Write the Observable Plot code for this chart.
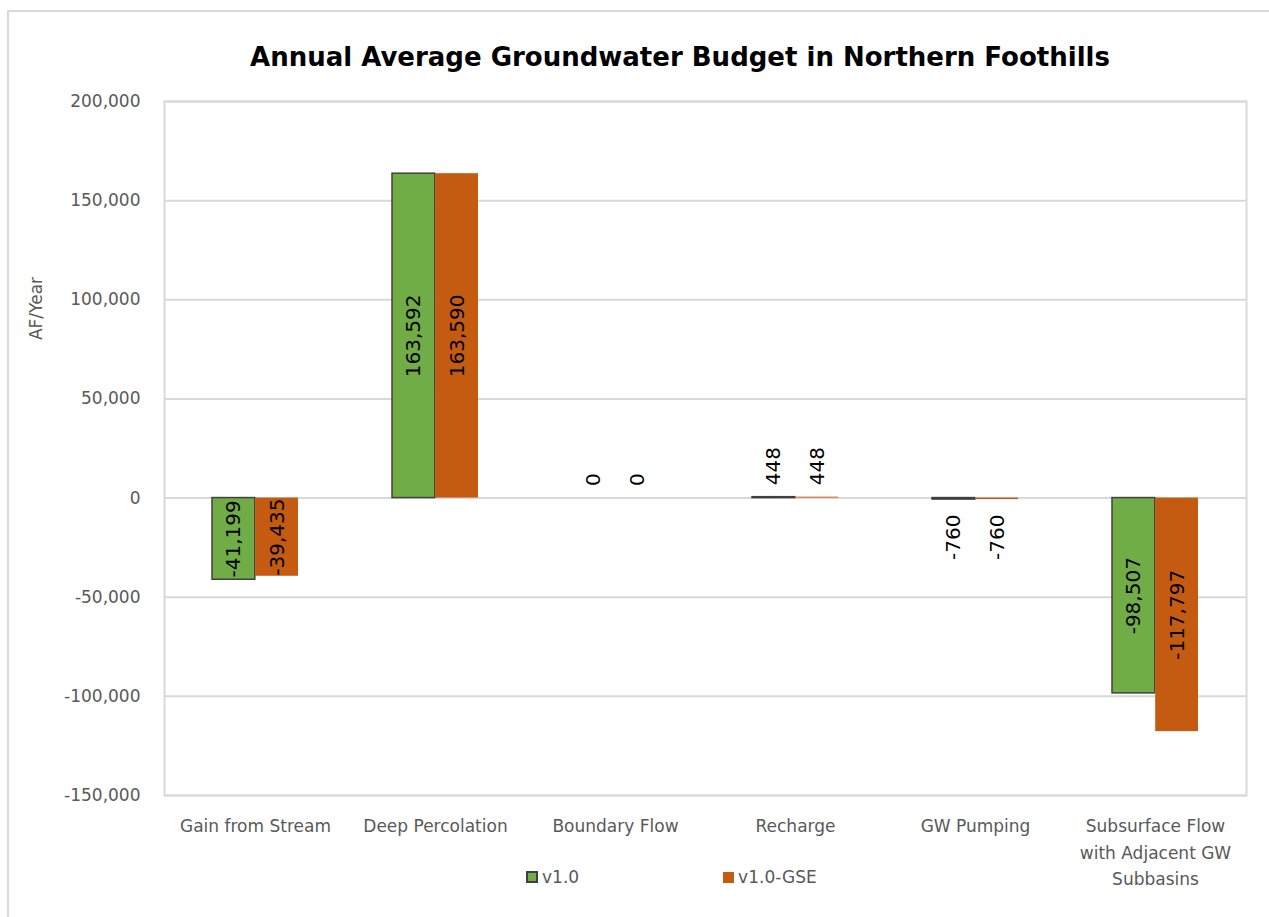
<!DOCTYPE html>
<html>
<head>
<meta charset="utf-8">
<script src="https://cdn.jsdelivr.net/npm/d3@7"></script>
<script src="https://cdn.jsdelivr.net/npm/@observablehq/plot@0.6"></script>
<style>
  body { margin: 0; background: #fff; font-family: "DejaVu Sans", sans-serif; }
  #wrap { position: relative; width: 1269px; height: 917px; overflow: hidden; }
  #outer { position: absolute; left: 7px; top: 10px; width: 1270px; height: 920px; border: 2px solid #d9d9d9; box-sizing: border-box; }
  #title { position: absolute; top: 42px; left: 0; width: 1360px; text-align: center; font-weight: bold; font-size: 26px; color: #000; white-space: nowrap; }
  #legend { position: absolute; top: 867px; left: 526px; font-size: 17px; color: #595959; display: flex; align-items: center; }
  .sw { display: inline-block; width: 12px; height: 12px; box-sizing: border-box; margin-right: 4px; }
  #chart { position: absolute; left: 0; top: 0; }
</style>
</head>
<body>
<div id="wrap">
  <div id="outer"></div>
  <div id="chart"></div>
  <div id="title">Annual Average Groundwater Budget in Northern Foothills</div>
  <div id="legend"></div>
</div>
<script>
const categories = [
  "Gain from Stream",
  "Deep Percolation",
  "Boundary Flow",
  "Recharge",
  "GW Pumping",
  "Subsurface Flow\nwith Adjacent GW\nSubbasins"
];
const seriesNames = ["v1.0", "v1.0-GSE"];
const v10 = [-41199, 163592, 0, 448, -760, -98507];
const v10gse = [-39435, 163590, 0, 448, -760, -117797];
const yTicks = [-150000, -100000, -50000, 0, 50000, 100000, 150000, 200000];
const yLabel = "AF/Year";
const colors = ["#70AD47", "#C55A11"];

const fmt = d3.formatLocale({decimal: ".", thousands: ",", grouping: [3], currency: ["$", ""], minus: "-"}).format(",");

const dataA = categories.map((c, i) => ({category: c, series: seriesNames[0], value: v10[i]}));
const dataB = categories.map((c, i) => ({category: c, series: seriesNames[1], value: v10gse[i]}));

const small = d => Math.abs(d.value) < 5000;
const half = 21.6;

function labels(data, dx) {
  return [
    Plot.text(data.filter(d => !small(d)), {x: "category", y: d => d.value / 2, text: d => fmt(d.value), rotate: -90, dx, fontSize: 20, fill: "#000"}),
    Plot.text(data.filter(d => small(d) && d.value >= 0), {x: "category", y: "value", text: d => fmt(d.value), rotate: -90, dx, dy: -12, textAnchor: "start", fontSize: 20, fill: "#000"}),
    Plot.text(data.filter(d => small(d) && d.value < 0), {x: "category", y: "value", text: d => fmt(d.value), rotate: -90, dx, dy: 15, textAnchor: "end", fontSize: 20, fill: "#000"})
  ];
}

const chart = Plot.plot({
  width: 1269,
  height: 917,
  marginTop: 101,
  marginBottom: 122,
  marginLeft: 164,
  marginRight: 23,
  style: {fontFamily: "DejaVu Sans, sans-serif", background: "transparent"},
  x: {domain: categories, paddingInner: 0.52, paddingOuter: 0.26, label: null},
  y: {domain: [-150000, 200000], label: null},
  marks: [
    Plot.gridY(yTicks, {stroke: "#d9d9d9", strokeOpacity: 1, strokeWidth: 2}),
    Plot.frame({stroke: "#d9d9d9", strokeWidth: 2}),
    Plot.barY(dataA, {x: "category", y: "value", fill: colors[0], stroke: "#404040", strokeWidth: 1.5, insetRight: 2 * half}),
    Plot.barY(dataB, {x: "category", y: "value", fill: colors[1], insetLeft: 2 * half}),
    ...labels(dataA, -half),
    ...labels(dataB, half),
    Plot.axisY(yTicks, {tickSize: 0, tickPadding: 24, tickFormat: fmt, fontSize: 17, fill: "#595959", label: null}),
    Plot.axisX({tickSize: 0, tickPadding: 18, fontSize: 17, fill: "#595959", lineHeight: 1.55, label: null}),
    Plot.text([yLabel], {text: d => d, frameAnchor: "left", textAnchor: "middle", lineAnchor: "middle", rotate: -90, dx: -128, dy: -140, fontSize: 17, fill: "#595959"})
  ]
});
document.getElementById("chart").appendChild(chart);

const legend = document.getElementById("legend");
seriesNames.forEach((s, i) => {
  const item = document.createElement("span");
  item.style.display = "inline-flex";
  item.style.alignItems = "center";
  item.style.marginRight = i === 0 ? "144px" : "0";
  const sw = document.createElement("span");
  sw.className = "sw";
  sw.style.background = colors[i];
  if (i === 0) sw.style.border = "2px solid #404040";
  else { sw.style.width = "11px"; sw.style.height = "11px"; }
  item.appendChild(sw);
  item.appendChild(document.createTextNode(s));
  legend.appendChild(item);
});
</script>
</body>
</html>
